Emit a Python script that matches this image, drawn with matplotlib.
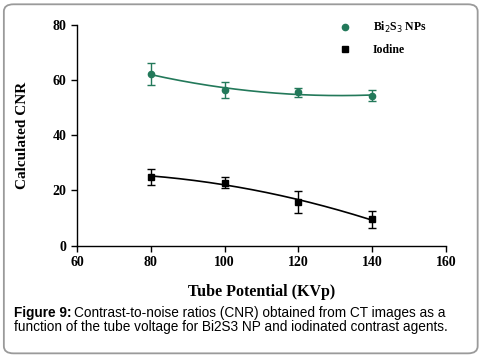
import numpy as np
import matplotlib
matplotlib.use("Agg")
import matplotlib.pyplot as plt
from matplotlib.patches import FancyBboxPatch
from matplotlib.lines import Line2D

# Datos
kvp = [80, 100, 120, 140]
bi2s3_cnr = [62.2, 56.4, 55.5, 54.3]
bi2s3_err = [4.0, 3.0, 1.7, 2.0]
iodine_cnr = [25.0, 22.8, 15.9, 9.5]
iodine_err = [2.9, 2.0, 3.9, 3.0]

green = "#23795a"
serif = "Liberation Serif"

fig = plt.figure(figsize=(4.82, 3.58), dpi=100)
ax = fig.add_axes([0.16, 0.3137, 0.765, 0.6173])

# Curvas ajustadas
xs = np.linspace(80, 140, 200)
ax.plot(xs, np.polyval(np.polyfit(kvp, bi2s3_cnr, 2), xs), color=green, lw=1.2)
ax.plot(xs, np.polyval(np.polyfit(kvp, iodine_cnr, 2), xs), color="black", lw=1.2)

ax.errorbar(kvp, bi2s3_cnr, yerr=bi2s3_err, fmt="o", color=green, ms=4.5,
            capsize=3, elinewidth=1, capthick=1)
ax.errorbar(kvp, iodine_cnr, yerr=iodine_err, fmt="s", color="black", ms=4.5,
            capsize=3, elinewidth=1, capthick=1)

ax.set_xlim(60, 160)
ax.set_ylim(0, 80)
ax.set_xticks(range(60, 161, 20))
ax.set_yticks(range(0, 81, 20))
for s in ["top", "right"]:
    ax.spines[s].set_visible(False)
for s in ["left", "bottom"]:
    ax.spines[s].set_linewidth(1.0)
ax.tick_params(direction="out", length=4, width=1, labelsize=10)
for lbl in ax.get_xticklabels() + ax.get_yticklabels():
    lbl.set_fontfamily(serif)
    lbl.set_fontweight("bold")

ax.set_xlabel("Tube Potential (KVp)", fontfamily=serif, fontweight="bold",
              fontsize=11.5, labelpad=11)
ax.set_ylabel("Calculated CNR", fontfamily=serif, fontweight="bold",
              fontsize=11, labelpad=17)

handles = [Line2D([], [], marker="o", ls="none", color=green, ms=4.5),
           Line2D([], [], marker="s", ls="none", color="black", ms=4.5)]
ax.legend(handles, ["Bi$_2$S$_3$ NPs", "Iodine"], loc="upper left",
          bbox_to_anchor=(0.665, 1.07), frameon=False,
          handletextpad=1.4, labelspacing=0.75,
          prop={"family": serif, "weight": "bold", "size": 8.5})

# Pie de figura
t = fig.text(0.029, 0.1145, "Figure 9:", fontfamily="Liberation Sans",
             fontweight="bold", fontsize=9.8, va="baseline")
fig.canvas.draw()
bb = t.get_window_extent()
fig.text(bb.x1 / fig.bbox.width + 0.006, 0.1145,
         "Contrast-to-noise ratios (CNR) obtained from CT images as a",
         fontfamily="Liberation Sans", fontsize=9.8, va="baseline")
fig.text(0.029, 0.0754,
         "function of the tube voltage for Bi2S3 NP and iodinated contrast agents.",
         fontfamily="Liberation Sans", fontsize=9.8, va="baseline")

# Marco redondeado
frame = FancyBboxPatch((0.008, 0.013), 0.983, 0.975, transform=fig.transFigure,
                       boxstyle="round,pad=0,rounding_size=0.02",
                       fill=False, edgecolor="#9a9a9a", lw=1.3)
fig.patches.append(frame)

fig.savefig("out.png", dpi=100)
